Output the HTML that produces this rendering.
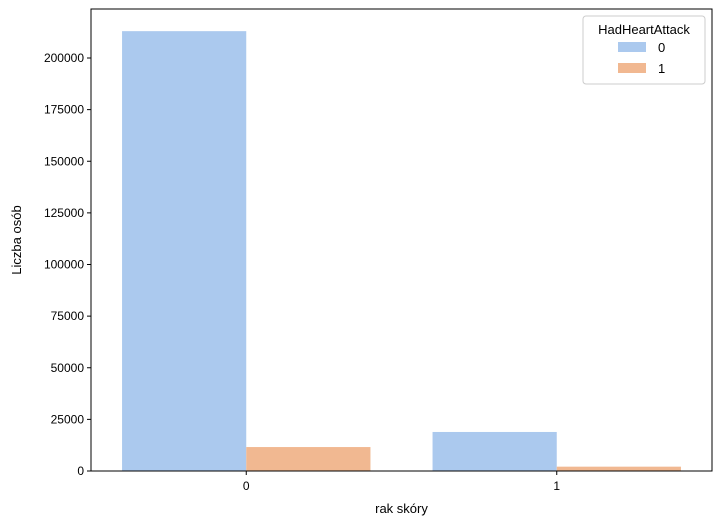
<!DOCTYPE html>
<html><head><meta charset="utf-8"><style>
body{margin:0;background:#fff;font-family:"Liberation Sans","DejaVu Sans",sans-serif}
</style></head><body>
<svg width="721" height="525" xmlns="http://www.w3.org/2000/svg" id="svg" font-family="Liberation Sans, DejaVu Sans, sans-serif">
</svg>
<script>
const categories=["0","1"];
const series0=[213000,18900];
const series1=[11600,2100];
const yTicks=[0,25000,50000,75000,100000,125000,150000,175000,200000];
const seriesNames=["0","1"];
const colors=["#abc9ee","#f1b891"];
const L=91,R=712,T=9,B=471;
const y=v=>B-v*(413/200000);
const x=c=>L+(c+0.5)*(R-L)/2;
const ns="http://www.w3.org/2000/svg";
const svg=document.getElementById('svg');
function mk(t,a,txt){const e=document.createElementNS(ns,t);for(const k in a)e.setAttribute(k,a[k]);if(txt!=null)e.textContent=txt;svg.appendChild(e);return e;}
[series0,series1].forEach((s,si)=>{s.forEach((v,ci)=>{
const bw=0.4*(R-L)/2;
const r=mk('rect',{x:x(ci)-bw+si*bw,y:y(v),width:bw,height:B-y(v),fill:colors[si]});


});});
const fr=mk('rect',{x:L,y:T,width:R-L,height:B-T,fill:'none',stroke:'#000','stroke-width':1});


yTicks.forEach(v=>{
mk('line',{x1:L-4,x2:L,y1:y(v),y2:y(v),stroke:'#000'});
const t=mk('text',{x:L-7,y:y(v)+4,'text-anchor':'end','font-size':12},String(v));


});
categories.forEach((c,i)=>{
mk('line',{x1:x(i),x2:x(i),y1:B,y2:B+4,stroke:'#000'});
const t=mk('text',{x:x(i),y:B+19,'text-anchor':'middle','font-size':12},c);


});
const xt=mk('text',{x:(L+R)/2,y:513,'text-anchor':'middle','font-size':13},'rak skóry');


const yt=mk('text',{x:21,y:(T+B)/2,'text-anchor':'middle','font-size':13,transform:'rotate(-90 21 '+(T+B)/2+')'},'Liczba osób');


const lg=mk('rect',{x:583,y:16,width:122,height:68,rx:3,fill:'#fff',stroke:'#ccc'});


const lt=mk('text',{x:644,y:34,'text-anchor':'middle','font-size':13},'HadHeartAttack');


seriesNames.forEach((n,i)=>{
const sw=mk('rect',{x:618,y:42+i*21,width:28,height:10,fill:colors[i]});


const t=mk('text',{x:658,y:52+i*21,'font-size':13},n);


});
</script>
</body></html>
